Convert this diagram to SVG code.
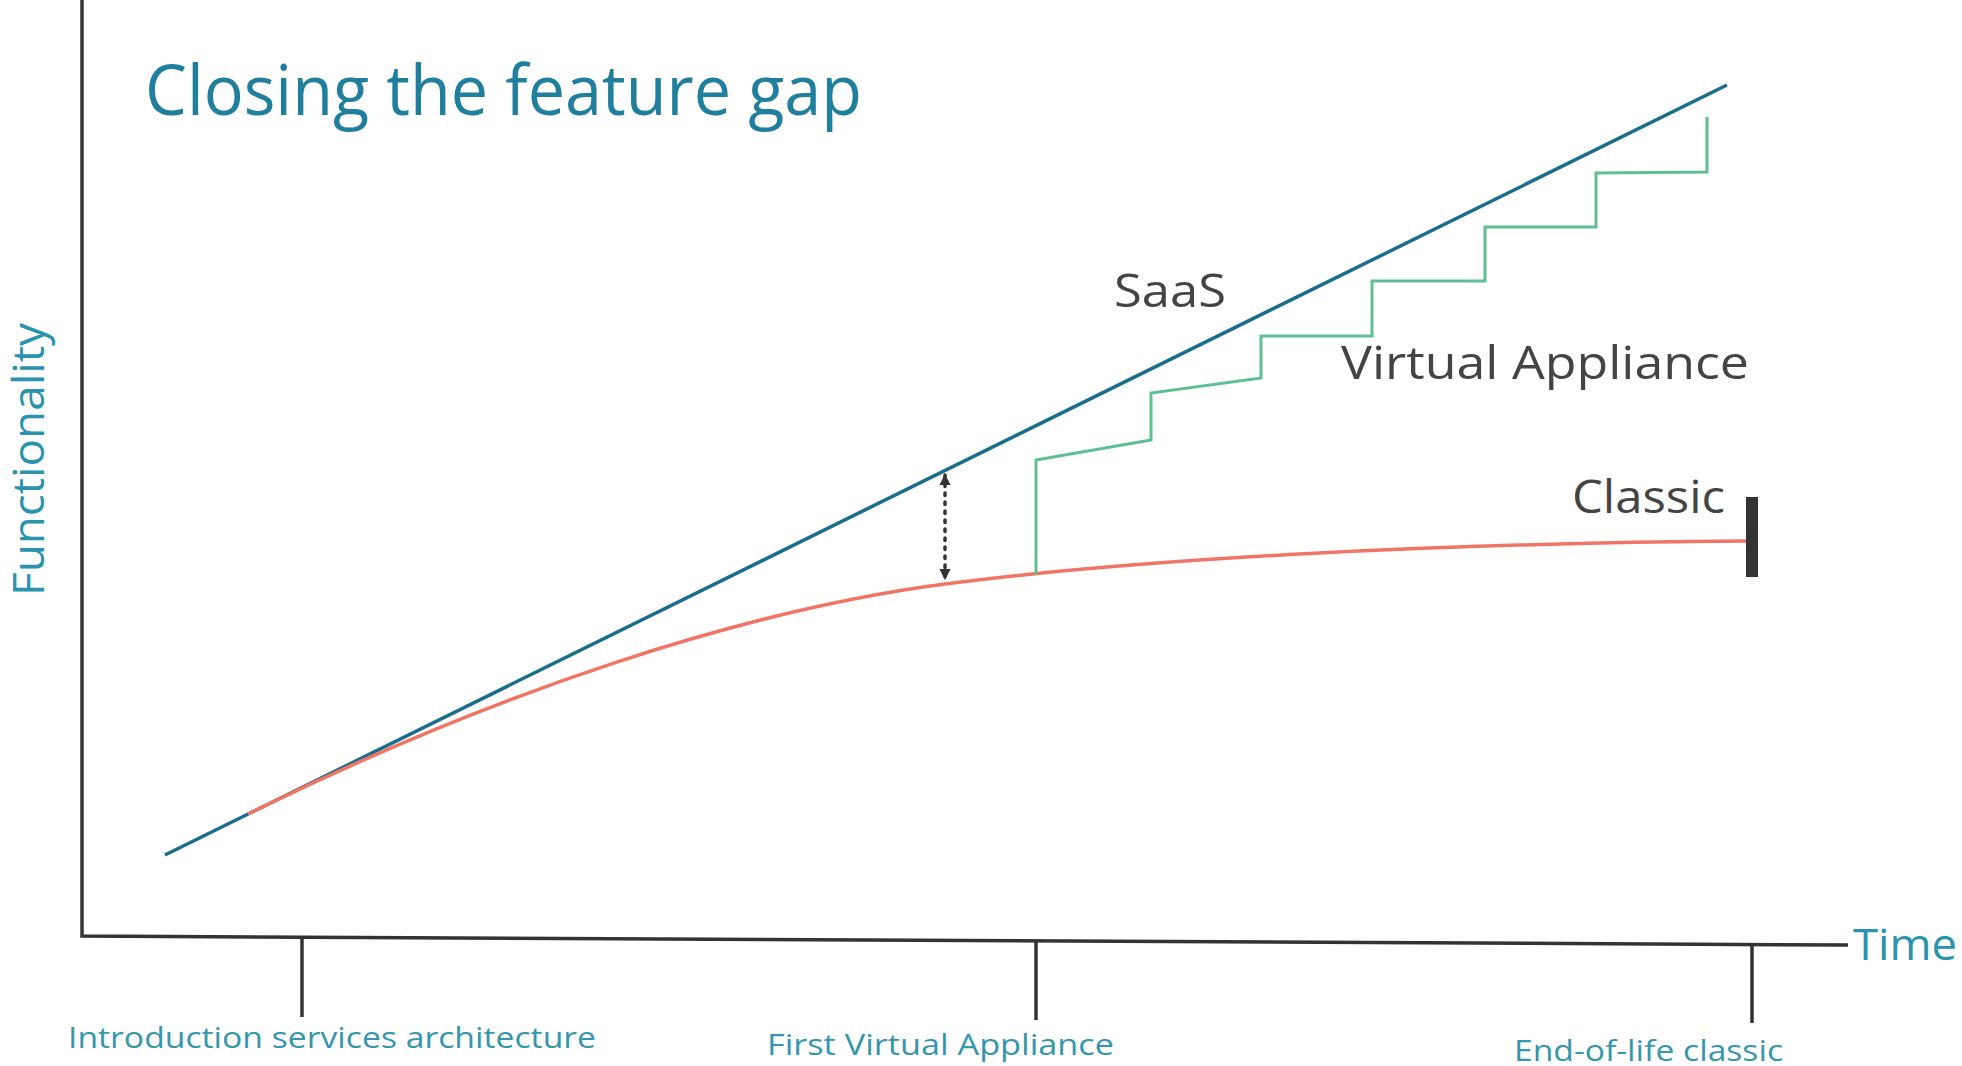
<svg xmlns="http://www.w3.org/2000/svg" width="1962" height="1066" viewBox="0 0 1962 1066">
  <style>
    text { font-family: "Open Sans", "Noto Sans", "Liberation Sans", sans-serif; }
    .title { font-size: 70px; fill: #1f7f9c; }
    .axis-label { font-size: 44px; fill: #2a93ae; }
    .milestone { font-size: 29px; fill: #3596ad; }
    .series-label { font-size: 46px; fill: #444444; }
    .axis { fill: none; stroke: #333333; stroke-width: 3.5; }
    .tick { stroke: #333333; stroke-width: 3.5; }
    .saas { fill: none; stroke: #1a6e8c; stroke-width: 3.5; }
    .classic { fill: none; stroke: #f07565; stroke-width: 3.5; }
    .va { fill: none; stroke: #5ebf92; stroke-width: 3; stroke-linejoin: miter; }
    .gap { stroke: #333333; stroke-width: 3.5; stroke-dasharray: 2.5 6.5; stroke-linecap: round; }
  </style>
  <defs>
    <marker id="gap-head" viewBox="0 0 10 10" refX="9" refY="5" markerWidth="3.4" markerHeight="3.2" orient="auto-start-reverse" markerUnits="strokeWidth">
      <path d="M0,0 L10,5 L0,10 Z" fill="#333333"/>
    </marker>
  </defs>

  <rect width="1962" height="1066" fill="#ffffff"/>

  <!-- title -->
  <g id="title">
    <text class="title" x="145" y="115" textLength="717" lengthAdjust="spacingAndGlyphs">Closing the feature gap</text>
  </g>

  <!-- axes and milestone ticks -->
  <g id="axes">
    <polyline class="axis" points="82,0 82,936 1848,945"/>
    <line class="tick" x1="302" y1="937" x2="302" y2="1017"/>
    <line class="tick" x1="1036" y1="940" x2="1036" y2="1020"/>
    <line class="tick" x1="1752" y1="943" x2="1752" y2="1023"/>
    <text class="axis-label" transform="translate(44,459.5) rotate(-90)" text-anchor="middle" font-size="41" textLength="273" lengthAdjust="spacingAndGlyphs">Functionality</text>
    <text class="axis-label" x="1853" y="960" textLength="104" lengthAdjust="spacingAndGlyphs">Time</text>
  </g>

  <g id="milestone-services">
    <text class="milestone" x="68" y="1048" textLength="528" lengthAdjust="spacingAndGlyphs">Introduction services architecture</text>
  </g>
  <g id="milestone-first-va">
    <text class="milestone" x="767" y="1055" textLength="347" lengthAdjust="spacingAndGlyphs">First Virtual Appliance</text>
  </g>
  <g id="milestone-eol">
    <text class="milestone" x="1514" y="1061" textLength="269" lengthAdjust="spacingAndGlyphs">End-of-life classic</text>
  </g>

  <!-- series lines -->
  <g id="connectors">
    <line id="saas-line" class="saas" x1="165" y1="855" x2="1727" y2="85"/>
    <path id="classic-line" class="classic" d="M248,814 C498,691 745,610 945,584 C1145,558 1450,543 1747,541"/>
    <polyline id="va-line" class="va" points="1036,574 1036,460 1151,440 1151,393 1261,378 1261,336 1372,336 1372,281 1485,281 1485,227 1596,227 1596,173 1707,172 1707,117"/>
    <line id="gap-arrow" class="gap" x1="945" y1="475" x2="945" y2="579" marker-start="url(#gap-head)" marker-end="url(#gap-head)"/>
  </g>

  <!-- series labels -->
  <g id="saas">
    <text class="series-label" x="1114" y="307" textLength="112" lengthAdjust="spacingAndGlyphs">SaaS</text>
  </g>
  <g id="virtual-appliance">
    <text class="series-label" x="1341" y="379" textLength="408" lengthAdjust="spacingAndGlyphs">Virtual Appliance</text>
  </g>
  <g id="classic">
    <text class="series-label" x="1572" y="513" textLength="153" lengthAdjust="spacingAndGlyphs">Classic</text>
    <rect x="1746" y="497" width="12" height="80" fill="#333333"/>
  </g>
</svg>
